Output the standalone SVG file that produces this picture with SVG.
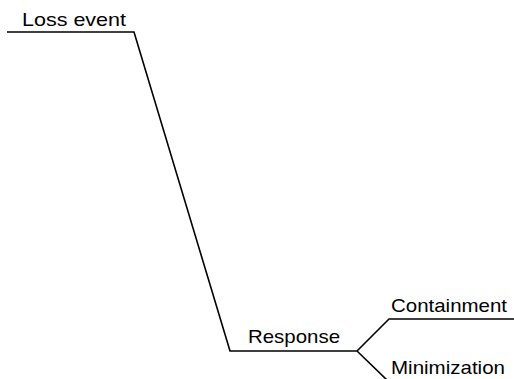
<svg xmlns="http://www.w3.org/2000/svg" width="514" height="379" viewBox="0 0 514 379">
<style>
text{font-family:"Liberation Sans",Arial,sans-serif;font-size:19px;fill:#000}
.c{fill:none;stroke:#000;stroke-width:1.6;stroke-linejoin:miter}
</style>
<rect width="514" height="379" fill="#fff"/>
<g id="connectors">
<polyline class="c" points="7,32 134,32 230,351 357,351 389,319 514,319"/>
<polyline class="c" points="357,351 387,380"/>
</g>
<g id="loss-event"><text x="22" y="26" textLength="104" lengthAdjust="spacingAndGlyphs">Loss event</text></g>
<g id="response"><text x="248" y="343" textLength="92" lengthAdjust="spacingAndGlyphs">Response</text></g>
<g id="containment"><text x="391" y="312" textLength="116" lengthAdjust="spacingAndGlyphs">Containment</text></g>
<g id="minimization"><text x="391" y="374" textLength="114" lengthAdjust="spacingAndGlyphs">Minimization</text></g>
</svg>
